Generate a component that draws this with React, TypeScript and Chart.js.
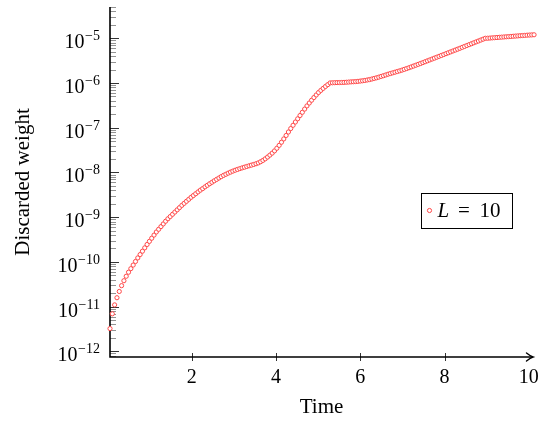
import { useEffect, useRef } from 'react';
import { Chart, registerables } from 'chart.js';

Chart.register(...registerables);

const SERIES_LABEL = 'L = 10';
const X_TITLE = 'Time';
const Y_TITLE = 'Discarded weight';

const TIME = [
  0.06, 0.115, 0.17, 0.225, 0.28, 0.335, 0.39, 0.445, 0.5, 0.555,
  0.61, 0.665, 0.72, 0.775, 0.83, 0.885, 0.94, 0.995, 1.05, 1.105,
  1.16, 1.215, 1.27, 1.325, 1.38, 1.435, 1.49, 1.545, 1.6, 1.655,
  1.71, 1.765, 1.82, 1.875, 1.93, 1.985, 2.04, 2.095, 2.15, 2.205,
  2.26, 2.315, 2.37, 2.425, 2.48, 2.535, 2.59, 2.645, 2.7, 2.755,
  2.81, 2.865, 2.92, 2.975, 3.03, 3.085, 3.14, 3.195, 3.25, 3.305,
  3.36, 3.415, 3.47, 3.525, 3.58, 3.635, 3.69, 3.745, 3.8, 3.855,
  3.91, 3.965, 4.02, 4.075, 4.13, 4.185, 4.24, 4.295, 4.35, 4.405,
  4.46, 4.515, 4.57, 4.625, 4.68, 4.735, 4.79, 4.845, 4.9, 4.955,
  5.01, 5.065, 5.12, 5.175, 5.23, 5.285, 5.34, 5.395, 5.45, 5.505,
  5.56, 5.615, 5.67, 5.725, 5.78, 5.835, 5.89, 5.945, 6.0, 6.055,
  6.11, 6.165, 6.22, 6.275, 6.33, 6.385, 6.44, 6.495, 6.55, 6.605,
  6.66, 6.715, 6.77, 6.825, 6.88, 6.935, 6.99, 7.045, 7.1, 7.155,
  7.21, 7.265, 7.32, 7.375, 7.43, 7.485, 7.54, 7.595, 7.65, 7.705,
  7.76, 7.815, 7.87, 7.925, 7.98, 8.035, 8.09, 8.145, 8.2, 8.255,
  8.31, 8.365, 8.42, 8.475, 8.53, 8.585, 8.64, 8.695, 8.75, 8.805,
  8.86, 8.915, 8.97, 9.025, 9.08, 9.135, 9.19, 9.245, 9.3, 9.355,
  9.41, 9.465, 9.52, 9.575, 9.63, 9.685, 9.74, 9.795, 9.85, 9.905,
  9.96, 10.015, 10.07, 10.125,
];

// log10 of the discarded weight
const LOG10_DISCARDED_WEIGHT = [
  -11.49, -11.16, -10.96, -10.8, -10.66, -10.53, -10.42, -10.32, -10.23, -10.15,
  -10.07, -9.99, -9.91, -9.835, -9.76, -9.685, -9.61, -9.54, -9.47, -9.4,
  -9.33, -9.27, -9.21, -9.15, -9.09, -9.035, -8.985, -8.935, -8.885, -8.835,
  -8.785, -8.735, -8.69, -8.645, -8.6, -8.555, -8.515, -8.475, -8.435, -8.395,
  -8.36, -8.322, -8.287, -8.252, -8.219, -8.186, -8.155, -8.124, -8.093, -8.065,
  -8.04, -8.015, -7.992, -7.97, -7.95, -7.932, -7.914, -7.898, -7.882, -7.866,
  -7.851, -7.836, -7.821, -7.805, -7.786, -7.76, -7.73, -7.695, -7.655, -7.612,
  -7.567, -7.517, -7.459, -7.394, -7.324, -7.25, -7.173, -7.095, -7.018, -6.945,
  -6.872, -6.8, -6.727, -6.655, -6.583, -6.512, -6.447, -6.385, -6.325, -6.267,
  -6.212, -6.165, -6.12, -6.077, -6.036, -5.998, -5.995, -5.993, -5.991, -5.99,
  -5.988, -5.986, -5.983, -5.979, -5.975, -5.972, -5.968, -5.963, -5.957, -5.95,
  -5.942, -5.933, -5.923, -5.911, -5.898, -5.884, -5.869, -5.853, -5.837, -5.82,
  -5.803, -5.788, -5.773, -5.758, -5.743, -5.728, -5.712, -5.695, -5.677, -5.659,
  -5.64, -5.621, -5.602, -5.583, -5.564, -5.544, -5.524, -5.504, -5.484, -5.464,
  -5.444, -5.424, -5.404, -5.384, -5.364, -5.344, -5.324, -5.304, -5.284, -5.264,
  -5.244, -5.224, -5.203, -5.183, -5.162, -5.142, -5.122, -5.101, -5.081, -5.061,
  -5.04, -5.02, -5.0, -4.999, -4.995, -4.991, -4.987, -4.983, -4.979, -4.975,
  -4.971, -4.967, -4.963, -4.959, -4.955, -4.951, -4.947, -4.943, -4.939, -4.935,
  -4.931, -4.928, -4.925, -4.922,
];

const X_TICK_VALUES = [2, 4, 6, 8, 10];
const X_TICK_LABELS = ['2', '4', '6', '8', '10'];
const Y_TICK_VALUES = [1e-12, 1e-11, 1e-10, 1e-9, 1e-8, 1e-7, 1e-6, 1e-5];
const Y_TICK_BASE = '10';
const Y_TICK_EXPONENTS = ['−12', '−11', '−10', '−9', '−8', '−7', '−6', '−5'];

const X_MIN = 0.06;
const X_MAX = 10.1;
const Y_MIN = 7.5e-13;
const Y_MAX = 5e-5;

const FONT = '"Liberation Serif", "DejaVu Serif", serif';
const MARK_COLOR = 'rgb(255, 72, 72)';

const axesPlugin = {
  id: 'pgfAxes',
  beforeDatasetsDraw(chart: any) {
    const { ctx, chartArea: a, scales } = chart;
    const x = scales.x;
    const y = scales.y;
    ctx.save();
    // minor y ticks (inside)
    ctx.strokeStyle = '#777';
    ctx.lineWidth = 0.8;
    for (let d = -13; d <= -5; d++) {
      for (let m = 2; m <= 9; m++) {
        const v = m * Math.pow(10, d);
        if (v < Y_MIN || v > Y_MAX) continue;
        const py = Math.round(y.getPixelForValue(v)) + 0.5;
        ctx.beginPath();
        ctx.moveTo(a.left, py);
        ctx.lineTo(a.left + 6, py);
        ctx.stroke();
      }
    }
    // major y ticks and labels
    ctx.strokeStyle = '#333';
    ctx.lineWidth = 1;
    Y_TICK_VALUES.forEach((v, i) => {
      const py = Math.round(y.getPixelForValue(v)) + 0.5;
      ctx.beginPath();
      ctx.moveTo(a.left, py);
      ctx.lineTo(a.left + 9, py);
      ctx.stroke();
      const right = a.left - 10;
      ctx.fillStyle = '#000';
      ctx.textAlign = 'right';
      ctx.textBaseline = 'alphabetic';
      ctx.font = `14px ${FONT}`;
      const exp = Y_TICK_EXPONENTS[i];
      const ew = ctx.measureText(exp).width;
      ctx.fillText(exp, right, py + 1);
      ctx.font = `20px ${FONT}`;
      ctx.fillText(Y_TICK_BASE, right - ew - 0.5, py + 9);
    });
    // x ticks crossing the axis
    X_TICK_VALUES.forEach((v) => {
      const px = x.getPixelForValue(v);
      if (px > a.right - 8) return;
      ctx.beginPath();
      ctx.moveTo(Math.round(px) + 0.5, a.bottom - 4);
      ctx.lineTo(Math.round(px) + 0.5, a.bottom + 4);
      ctx.stroke();
    });
    // axis lines
    ctx.strokeStyle = '#000';
    ctx.lineWidth = 1.6;
    ctx.beginPath();
    ctx.moveTo(a.left, a.top);
    ctx.lineTo(a.left, a.bottom);
    ctx.lineTo(a.right - 1, a.bottom);
    ctx.stroke();
    // arrow head
    const tx = a.right;
    const ty = a.bottom;
    ctx.lineWidth = 1.4;
    ctx.lineCap = 'round';
    ctx.beginPath();
    ctx.moveTo(tx - 6.5, ty - 4);
    ctx.quadraticCurveTo(tx - 2.5, ty - 0.8, tx, ty);
    ctx.quadraticCurveTo(tx - 2.5, ty + 0.8, tx - 6.5, ty + 4);
    ctx.stroke();
    ctx.restore();
  },
  afterDraw(chart: any) {
    const { ctx, chartArea: a } = chart;
    const ds = chart.data.datasets[0];
    const bx = a.right - 112;
    const by = a.top + 186;
    const bw = 91;
    const bh = 35;
    ctx.save();
    ctx.fillStyle = '#fff';
    ctx.fillRect(bx, by, bw, bh);
    ctx.strokeStyle = '#000';
    ctx.lineWidth = 1;
    ctx.strokeRect(bx + 0.5, by + 0.5, bw, bh);
    // marker
    ctx.beginPath();
    ctx.arc(bx + 8.5, by + 17.5, 2.1, 0, Math.PI * 2);
    ctx.fillStyle = '#fff';
    ctx.fill();
    ctx.strokeStyle = ds.borderColor;
    ctx.lineWidth = 1;
    ctx.stroke();
    // label
    const label: string = ds.label;
    const m = label.match(/^(\S+)\s*=\s*(.*)$/);
    const name = m ? m[1] : label;
    const val = m ? m[2] : '';
    ctx.fillStyle = '#000';
    ctx.textBaseline = 'alphabetic';
    const base = by + 24;
    ctx.font = `italic 21px ${FONT}`;
    ctx.textAlign = 'left';
    ctx.fillText(name, bx + 16.5, base);
    if (m) {
      ctx.font = `21px ${FONT}`;
      ctx.textAlign = 'center';
      ctx.fillText('=', bx + 43, base);
      ctx.textAlign = 'right';
      ctx.fillText(val, bx + 79.5, base);
    }
    ctx.restore();
  },
};

export default function App() {
  const canvasRef = useRef<HTMLCanvasElement | null>(null);

  useEffect(() => {
    if (!canvasRef.current) return;
    const points = TIME.map((t, i) => ({ x: t, y: Math.pow(10, LOG10_DISCARDED_WEIGHT[i]) }));
    const chart = new Chart(canvasRef.current, {
      type: 'line',
      data: {
        datasets: [
          {
            label: SERIES_LABEL,
            data: points,
            showLine: false,
            borderColor: MARK_COLOR,
            backgroundColor: '#fff',
            pointBackgroundColor: '#fff',
            pointBorderColor: MARK_COLOR,
            pointRadius: 2.1,
            pointBorderWidth: 1,
            pointStyle: 'circle',
            clip: false as any,
          },
        ],
      },
      options: {
        animation: false,
        responsive: true,
        maintainAspectRatio: false,
        events: [],
        layout: { padding: { left: 0, right: 17, top: 7, bottom: 0 } },
        plugins: {
          legend: { display: false },
          tooltip: { enabled: false },
        },
        scales: {
          x: {
            type: 'linear',
            min: X_MIN,
            max: X_MAX,
            grid: { display: false, drawTicks: false },
            border: { display: false },
            afterBuildTicks: (scale: any) => {
              scale.ticks = X_TICK_VALUES.map((v) => ({ value: v }));
            },
            afterFit: (scale: any) => {
              scale.height = 68;
            },
            ticks: {
              autoSkip: false,
              maxRotation: 0,
              padding: 9,
              color: '#000',
              font: { family: FONT, size: 20 },
              callback: (v: any) => {
                const i = X_TICK_VALUES.indexOf(Number(v));
                return i >= 0 ? X_TICK_LABELS[i] : '';
              },
            },
            title: {
              display: true,
              text: X_TITLE,
              color: '#000',
              font: { family: FONT, size: 21 },
              padding: { top: 0, bottom: 5 },
            },
          },
          y: {
            type: 'logarithmic',
            min: Y_MIN,
            max: Y_MAX,
            grid: { display: false, drawTicks: false },
            border: { display: false },
            afterBuildTicks: (scale: any) => {
              scale.ticks = Y_TICK_VALUES.map((v) => ({ value: v }));
            },
            afterFit: (scale: any) => {
              scale.width = 110;
            },
            ticks: {
              display: false,
            },
            title: {
              display: true,
              text: Y_TITLE,
              color: '#000',
              font: { family: FONT, size: 21 },
              padding: { top: 11, bottom: 0 },
            },
          },
        },
      },
      plugins: [axesPlugin],
    });
    return () => chart.destroy();
  }, []);

  return (
    <div style={{ position: 'fixed', left: 0, top: 0, width: 550, height: 425, background: '#fff' }}>
      <canvas ref={canvasRef} />
    </div>
  );
}
